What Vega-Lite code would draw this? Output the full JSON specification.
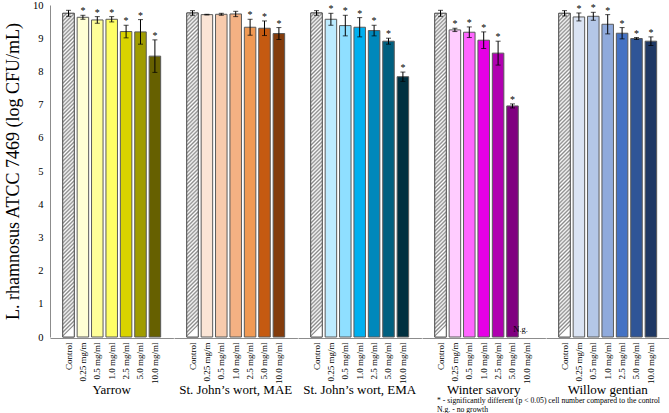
{
  "$schema": "https://vega.github.io/schema/vega-lite/v6.json",
  "padding": {"left": 4, "top": 0, "right": 0, "bottom": 0},
  "config": {
    "view": {"stroke": null},
    "font": "Liberation Serif",
    "axisY": {"titleFontSize": 18, "titleFontWeight": "normal", "titleFont": "Liberation Serif", "titleColor": "black", "titlePadding": 10, "grid": false, "ticks": false, "tickCount": 10, "labelOverlap": false, "labelFontSize": 10.5, "labelFont": "Liberation Serif", "labelColor": "black", "labelPadding": 7, "domainColor": "#8c8c8c"}
  },
  "data": {"values": [
    {"group": "Yarrow", "dose": "Control", "id": "C", "mean": 9.75, "lo": 9.66, "hi": 9.84, "sig": false, "ng": false},
    {"group": "Yarrow", "dose": "0.25 mg/m", "id": "Y1", "mean": 9.63, "lo": 9.57, "hi": 9.69, "sig": true, "ng": false},
    {"group": "Yarrow", "dose": "0.5 mg/ml", "id": "Y2", "mean": 9.55, "lo": 9.45, "hi": 9.65, "sig": true, "ng": false},
    {"group": "Yarrow", "dose": "1.0 mg/ml", "id": "Y3", "mean": 9.57, "lo": 9.49, "hi": 9.65, "sig": true, "ng": false},
    {"group": "Yarrow", "dose": "2.5 mg/ml", "id": "Y4", "mean": 9.2, "lo": 9.01, "hi": 9.39, "sig": true, "ng": false},
    {"group": "Yarrow", "dose": "5.0 mg/ml", "id": "Y5", "mean": 9.19, "lo": 8.82, "hi": 9.56, "sig": true, "ng": false},
    {"group": "Yarrow", "dose": "10.0 mg/ml", "id": "Y6", "mean": 8.46, "lo": 7.97, "hi": 8.95, "sig": true, "ng": false},
    {"group": "St. John’s wort, MAE", "dose": "Control", "id": "C", "mean": 9.76, "lo": 9.69, "hi": 9.83, "sig": false, "ng": false},
    {"group": "St. John’s wort, MAE", "dose": "0.25 mg/m", "id": "M1", "mean": 9.71, "lo": 9.70, "hi": 9.72, "sig": false, "ng": false},
    {"group": "St. John’s wort, MAE", "dose": "0.5 mg/ml", "id": "M2", "mean": 9.72, "lo": 9.69, "hi": 9.75, "sig": false, "ng": false},
    {"group": "St. John’s wort, MAE", "dose": "1.0 mg/ml", "id": "M3", "mean": 9.73, "lo": 9.65, "hi": 9.81, "sig": false, "ng": false},
    {"group": "St. John’s wort, MAE", "dose": "2.5 mg/ml", "id": "M4", "mean": 9.33, "lo": 9.09, "hi": 9.57, "sig": true, "ng": false},
    {"group": "St. John’s wort, MAE", "dose": "5.0 mg/ml", "id": "M5", "mean": 9.3, "lo": 9.08, "hi": 9.52, "sig": true, "ng": false},
    {"group": "St. John’s wort, MAE", "dose": "10.0 mg/ml", "id": "M6", "mean": 9.14, "lo": 8.96, "hi": 9.32, "sig": true, "ng": false},
    {"group": "St. John’s wort, EMA", "dose": "Control", "id": "C", "mean": 9.76, "lo": 9.69, "hi": 9.83, "sig": false, "ng": false},
    {"group": "St. John’s wort, EMA", "dose": "0.25 mg/m", "id": "E1", "mean": 9.57, "lo": 9.39, "hi": 9.75, "sig": true, "ng": false},
    {"group": "St. John’s wort, EMA", "dose": "0.5 mg/ml", "id": "E2", "mean": 9.38, "lo": 9.07, "hi": 9.69, "sig": true, "ng": false},
    {"group": "St. John’s wort, EMA", "dose": "1.0 mg/ml", "id": "E3", "mean": 9.33, "lo": 9.04, "hi": 9.62, "sig": true, "ng": false},
    {"group": "St. John’s wort, EMA", "dose": "2.5 mg/ml", "id": "E4", "mean": 9.23, "lo": 9.07, "hi": 9.39, "sig": true, "ng": false},
    {"group": "St. John’s wort, EMA", "dose": "5.0 mg/ml", "id": "E5", "mean": 8.91, "lo": 8.82, "hi": 9.0, "sig": true, "ng": false},
    {"group": "St. John’s wort, EMA", "dose": "10.0 mg/ml", "id": "E6", "mean": 7.84, "lo": 7.70, "hi": 7.98, "sig": true, "ng": false},
    {"group": "Winter savory", "dose": "Control", "id": "C", "mean": 9.75, "lo": 9.66, "hi": 9.84, "sig": false, "ng": false},
    {"group": "Winter savory", "dose": "0.25 mg/m", "id": "W1", "mean": 9.25, "lo": 9.2, "hi": 9.3, "sig": true, "ng": false},
    {"group": "Winter savory", "dose": "0.5 mg/ml", "id": "W2", "mean": 9.18, "lo": 9.02, "hi": 9.34, "sig": true, "ng": false},
    {"group": "Winter savory", "dose": "1.0 mg/ml", "id": "W3", "mean": 8.94, "lo": 8.69, "hi": 9.19, "sig": true, "ng": false},
    {"group": "Winter savory", "dose": "2.5 mg/ml", "id": "W4", "mean": 8.55, "lo": 8.19, "hi": 8.91, "sig": true, "ng": false},
    {"group": "Winter savory", "dose": "5.0 mg/ml", "id": "W5", "mean": 6.96, "lo": 6.9, "hi": 7.02, "sig": true, "ng": false},
    {"group": "Winter savory", "dose": "10.0 mg/ml", "id": "W6", "mean": null, "lo": null, "hi": null, "sig": false, "ng": true},
    {"group": "Willow gentian", "dose": "Control", "id": "C", "mean": 9.75, "lo": 9.67, "hi": 9.83, "sig": false, "ng": false},
    {"group": "Willow gentian", "dose": "0.25 mg/m", "id": "G1", "mean": 9.64, "lo": 9.52, "hi": 9.76, "sig": true, "ng": false},
    {"group": "Willow gentian", "dose": "0.5 mg/ml", "id": "G2", "mean": 9.66, "lo": 9.54, "hi": 9.78, "sig": true, "ng": false},
    {"group": "Willow gentian", "dose": "1.0 mg/ml", "id": "G3", "mean": 9.42, "lo": 9.13, "hi": 9.71, "sig": true, "ng": false},
    {"group": "Willow gentian", "dose": "2.5 mg/ml", "id": "G4", "mean": 9.15, "lo": 8.98, "hi": 9.32, "sig": true, "ng": false},
    {"group": "Willow gentian", "dose": "5.0 mg/ml", "id": "G5", "mean": 8.99, "lo": 8.96, "hi": 9.02, "sig": true, "ng": false},
    {"group": "Willow gentian", "dose": "10.0 mg/ml", "id": "G6", "mean": 8.91, "lo": 8.78, "hi": 9.04, "sig": true, "ng": false}
  ]},
  "title": {
    "text": ["* - significantly different (p < 0.05) cell number compared to the control", "N.g. - no growth"],
    "orient": "bottom", "anchor": "start", "frame": "group", "dx": 387, "offset": 0,
    "fontSize": 7.7, "fontWeight": "normal", "font": "Liberation Serif", "lineHeight": 9, "color": "black"
  },
  "spacing": 0,
  "facet": {
    "column": {
      "field": "group", "type": "nominal",
      "sort": ["Yarrow", "St. John’s wort, MAE", "St. John’s wort, EMA", "Winter savory", "Willow gentian"],
      "header": {"title": null, "labelOrient": "bottom", "labelFontSize": 13, "labelFont": "Liberation Serif", "labelPadding": 0, "labelColor": "black"}
    }
  },
  "spec": {
    "width": 123.4,
    "height": 332,
    "encoding": {
      "x": {
        "field": "dose", "type": "nominal",
        "sort": ["Control", "0.25 mg/m", "0.5 mg/ml", "1.0 mg/ml", "2.5 mg/ml", "5.0 mg/ml", "10.0 mg/ml"],
        "scale": {"paddingInner": 0.2, "paddingOuter": 0.885},
        "axis": {"title": null, "labelAngle": -90, "labelFontSize": 9, "labelFont": "Liberation Serif", "labelColor": "black", "ticks": false, "labelPadding": 4, "domainColor": "#8c8c8c"}
      }
    },
    "layer": [
      {
        "mark": {"type": "bar", "stroke": "#5a5a5a", "strokeWidth": 1},
        "encoding": {
          "y": {
            "field": "mean", "type": "quantitative",
            "scale": {"domain": [0, 10]},
            "axis": {"title": "L. rhamnosus ATCC 7469 (log CFU/mL)"}
          },
          "color": {
            "field": "id", "type": "nominal", "legend": null,
            "scale": {
              "domain": ["C", "Y1", "Y2", "Y3", "Y4", "Y5", "Y6", "M1", "M2", "M3", "M4", "M5", "M6", "E1", "E2", "E3", "E4", "E5", "E6", "W1", "W2", "W3", "W4", "W5", "W6", "G1", "G2", "G3", "G4", "G5", "G6"],
              "range": ["#d4d4d4", "#ffffd5", "#ffff99", "#ffff66", "#d9d300", "#a09c00", "#666000", "#fbe5d6", "#f8cbad", "#f4b183", "#f09a55", "#c55a11", "#843c0c", "#bdebff", "#8fdfff", "#00b0f0", "#0088bb", "#006080", "#003040", "#ffccff", "#ff66ff", "#e600e6", "#b000b0", "#800080", "#800080", "#dae3f3", "#b4c7e7", "#8faadc", "#4472c4", "#2f5597", "#1f3864"]
            }
          }
        }
      },
      {
        "transform": [{"filter": "datum.dose === 'Control'"}],
        "mark": {"type": "bar", "stroke": "#5a5a5a", "strokeWidth": 1, "fill": {"gradient": "linear", "x1": 0, "y1": 0, "x2": 0.0355, "y2": 1, "stops": [
          {"offset": 0, "color": "#8a8a8a"}, {"offset": 0.006, "color": "#fff"}, {"offset": 0.012, "color": "#8a8a8a"}, {"offset": 0.018, "color": "#fff"}, {"offset": 0.024, "color": "#8a8a8a"}, {"offset": 0.03, "color": "#fff"}, {"offset": 0.036, "color": "#8a8a8a"}, {"offset": 0.042, "color": "#fff"}, {"offset": 0.048, "color": "#8a8a8a"}, {"offset": 0.054, "color": "#fff"},
          {"offset": 0.06, "color": "#8a8a8a"}, {"offset": 0.066, "color": "#fff"}, {"offset": 0.072, "color": "#8a8a8a"}, {"offset": 0.078, "color": "#fff"}, {"offset": 0.084, "color": "#8a8a8a"}, {"offset": 0.09, "color": "#fff"}, {"offset": 0.096, "color": "#8a8a8a"}, {"offset": 0.102, "color": "#fff"}, {"offset": 0.108, "color": "#8a8a8a"}, {"offset": 0.114, "color": "#fff"},
          {"offset": 0.12, "color": "#8a8a8a"}, {"offset": 0.126, "color": "#fff"}, {"offset": 0.132, "color": "#8a8a8a"}, {"offset": 0.138, "color": "#fff"}, {"offset": 0.144, "color": "#8a8a8a"}, {"offset": 0.15, "color": "#fff"}, {"offset": 0.156, "color": "#8a8a8a"}, {"offset": 0.162, "color": "#fff"}, {"offset": 0.168, "color": "#8a8a8a"}, {"offset": 0.174, "color": "#fff"},
          {"offset": 0.18, "color": "#8a8a8a"}, {"offset": 0.186, "color": "#fff"}, {"offset": 0.192, "color": "#8a8a8a"}, {"offset": 0.198, "color": "#fff"}, {"offset": 0.204, "color": "#8a8a8a"}, {"offset": 0.21, "color": "#fff"}, {"offset": 0.216, "color": "#8a8a8a"}, {"offset": 0.222, "color": "#fff"}, {"offset": 0.228, "color": "#8a8a8a"}, {"offset": 0.234, "color": "#fff"},
          {"offset": 0.24, "color": "#8a8a8a"}, {"offset": 0.246, "color": "#fff"}, {"offset": 0.252, "color": "#8a8a8a"}, {"offset": 0.258, "color": "#fff"}, {"offset": 0.264, "color": "#8a8a8a"}, {"offset": 0.27, "color": "#fff"}, {"offset": 0.276, "color": "#8a8a8a"}, {"offset": 0.282, "color": "#fff"}, {"offset": 0.288, "color": "#8a8a8a"}, {"offset": 0.294, "color": "#fff"},
          {"offset": 0.3, "color": "#8a8a8a"}, {"offset": 0.306, "color": "#fff"}, {"offset": 0.312, "color": "#8a8a8a"}, {"offset": 0.318, "color": "#fff"}, {"offset": 0.324, "color": "#8a8a8a"}, {"offset": 0.33, "color": "#fff"}, {"offset": 0.336, "color": "#8a8a8a"}, {"offset": 0.342, "color": "#fff"}, {"offset": 0.348, "color": "#8a8a8a"}, {"offset": 0.354, "color": "#fff"},
          {"offset": 0.36, "color": "#8a8a8a"}, {"offset": 0.366, "color": "#fff"}, {"offset": 0.372, "color": "#8a8a8a"}, {"offset": 0.378, "color": "#fff"}, {"offset": 0.384, "color": "#8a8a8a"}, {"offset": 0.39, "color": "#fff"}, {"offset": 0.396, "color": "#8a8a8a"}, {"offset": 0.402, "color": "#fff"}, {"offset": 0.408, "color": "#8a8a8a"}, {"offset": 0.414, "color": "#fff"},
          {"offset": 0.42, "color": "#8a8a8a"}, {"offset": 0.426, "color": "#fff"}, {"offset": 0.432, "color": "#8a8a8a"}, {"offset": 0.438, "color": "#fff"}, {"offset": 0.444, "color": "#8a8a8a"}, {"offset": 0.45, "color": "#fff"}, {"offset": 0.456, "color": "#8a8a8a"}, {"offset": 0.462, "color": "#fff"}, {"offset": 0.468, "color": "#8a8a8a"}, {"offset": 0.474, "color": "#fff"},
          {"offset": 0.48, "color": "#8a8a8a"}, {"offset": 0.486, "color": "#fff"}, {"offset": 0.492, "color": "#8a8a8a"}, {"offset": 0.498, "color": "#fff"}, {"offset": 0.504, "color": "#8a8a8a"}, {"offset": 0.51, "color": "#fff"}, {"offset": 0.516, "color": "#8a8a8a"}, {"offset": 0.522, "color": "#fff"}, {"offset": 0.528, "color": "#8a8a8a"}, {"offset": 0.534, "color": "#fff"},
          {"offset": 0.54, "color": "#8a8a8a"}, {"offset": 0.546, "color": "#fff"}, {"offset": 0.552, "color": "#8a8a8a"}, {"offset": 0.558, "color": "#fff"}, {"offset": 0.564, "color": "#8a8a8a"}, {"offset": 0.57, "color": "#fff"}, {"offset": 0.576, "color": "#8a8a8a"}, {"offset": 0.582, "color": "#fff"}, {"offset": 0.588, "color": "#8a8a8a"}, {"offset": 0.594, "color": "#fff"},
          {"offset": 0.6, "color": "#8a8a8a"}, {"offset": 0.606, "color": "#fff"}, {"offset": 0.612, "color": "#8a8a8a"}, {"offset": 0.618, "color": "#fff"}, {"offset": 0.624, "color": "#8a8a8a"}, {"offset": 0.63, "color": "#fff"}, {"offset": 0.636, "color": "#8a8a8a"}, {"offset": 0.642, "color": "#fff"}, {"offset": 0.648, "color": "#8a8a8a"}, {"offset": 0.654, "color": "#fff"},
          {"offset": 0.66, "color": "#8a8a8a"}, {"offset": 0.666, "color": "#fff"}, {"offset": 0.672, "color": "#8a8a8a"}, {"offset": 0.678, "color": "#fff"}, {"offset": 0.684, "color": "#8a8a8a"}, {"offset": 0.69, "color": "#fff"}, {"offset": 0.696, "color": "#8a8a8a"}, {"offset": 0.702, "color": "#fff"}, {"offset": 0.708, "color": "#8a8a8a"}, {"offset": 0.714, "color": "#fff"},
          {"offset": 0.72, "color": "#8a8a8a"}, {"offset": 0.726, "color": "#fff"}, {"offset": 0.732, "color": "#8a8a8a"}, {"offset": 0.738, "color": "#fff"}, {"offset": 0.744, "color": "#8a8a8a"}, {"offset": 0.75, "color": "#fff"}, {"offset": 0.756, "color": "#8a8a8a"}, {"offset": 0.762, "color": "#fff"}, {"offset": 0.768, "color": "#8a8a8a"}, {"offset": 0.774, "color": "#fff"},
          {"offset": 0.78, "color": "#8a8a8a"}, {"offset": 0.786, "color": "#fff"}, {"offset": 0.792, "color": "#8a8a8a"}, {"offset": 0.798, "color": "#fff"}, {"offset": 0.804, "color": "#8a8a8a"}, {"offset": 0.81, "color": "#fff"}, {"offset": 0.816, "color": "#8a8a8a"}, {"offset": 0.822, "color": "#fff"}, {"offset": 0.828, "color": "#8a8a8a"}, {"offset": 0.834, "color": "#fff"},
          {"offset": 0.84, "color": "#8a8a8a"}, {"offset": 0.846, "color": "#fff"}, {"offset": 0.852, "color": "#8a8a8a"}, {"offset": 0.858, "color": "#fff"}, {"offset": 0.864, "color": "#8a8a8a"}, {"offset": 0.87, "color": "#fff"}, {"offset": 0.876, "color": "#8a8a8a"}, {"offset": 0.882, "color": "#fff"}, {"offset": 0.888, "color": "#8a8a8a"}, {"offset": 0.894, "color": "#fff"},
          {"offset": 0.9, "color": "#8a8a8a"}, {"offset": 0.906, "color": "#fff"}, {"offset": 0.912, "color": "#8a8a8a"}, {"offset": 0.918, "color": "#fff"}, {"offset": 0.924, "color": "#8a8a8a"}, {"offset": 0.93, "color": "#fff"}, {"offset": 0.936, "color": "#8a8a8a"}, {"offset": 0.942, "color": "#fff"}, {"offset": 0.948, "color": "#8a8a8a"}, {"offset": 0.954, "color": "#fff"},
          {"offset": 0.96, "color": "#8a8a8a"}, {"offset": 0.966, "color": "#fff"}, {"offset": 0.972, "color": "#8a8a8a"}, {"offset": 0.978, "color": "#fff"}, {"offset": 0.984, "color": "#8a8a8a"}, {"offset": 0.99, "color": "#fff"}, {"offset": 0.996, "color": "#8a8a8a"}, {"offset": 1, "color": "#fff"}
        ]}},
        "encoding": {"y": {"field": "mean", "type": "quantitative"}}
      },
      {
        "mark": {"type": "rule", "color": "black", "strokeWidth": 1},
        "encoding": {"y": {"field": "lo", "type": "quantitative"}, "y2": {"field": "hi"}}
      },
      {
        "mark": {"type": "tick", "color": "black", "size": 5, "thickness": 1},
        "encoding": {"y": {"field": "lo", "type": "quantitative"}}
      },
      {
        "mark": {"type": "tick", "color": "black", "size": 5, "thickness": 1},
        "encoding": {"y": {"field": "hi", "type": "quantitative"}}
      },
      {
        "transform": [{"filter": "datum.sig"}],
        "mark": {"type": "text", "text": "*", "baseline": "bottom", "dy": 1, "fontSize": 10, "font": "Liberation Serif", "color": "black"},
        "encoding": {"y": {"field": "hi", "type": "quantitative"}}
      },
      {
        "transform": [{"filter": "datum.ng"}],
        "mark": {"type": "text", "text": "N.g.", "align": "right", "baseline": "bottom", "dx": 1, "dy": -3, "fontSize": 8.5, "font": "Liberation Serif", "color": "black"},
        "encoding": {"y": {"datum": 0}}
      }
    ]
  }
}
